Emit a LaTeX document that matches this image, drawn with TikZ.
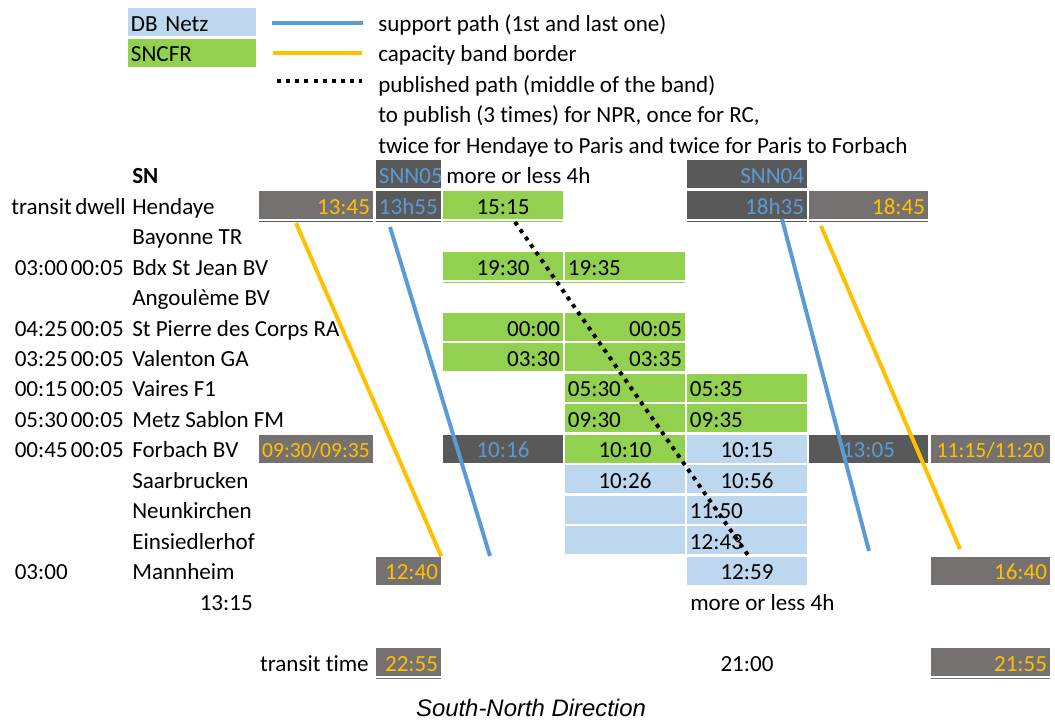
\documentclass[tikz,border=0pt]{standalone}
\usepackage{fontspec}
\setmainfont[Ligatures=NoCommon]{Carlito}
\newfontfamily\captionfont{Liberation Sans}
\newcommand{\cellfont}{\fontsize{16.4pt}{19pt}\selectfont}

\definecolor{dbblue}{HTML}{BDD7EE}
\definecolor{sncfgreen}{HTML}{92D050}
\definecolor{darkcell}{HTML}{595959}
\definecolor{greycell}{HTML}{767171}
\definecolor{bandorange}{HTML}{FFC000}
\definecolor{pathblue}{HTML}{5B9BD5}

\tikzset{
	cell/.style={inner xsep=0.075cm, inner ysep=0pt, minimum height=0.7cm, text height=13pt, text depth=0pt},
	plain/.style={inner sep=0pt, text height=13pt, text depth=0pt},
	dcell/.style={cell, text width=2.7cm},
	ecell/.style={cell, text width=1.475cm},
	wcell/.style={cell, text width=2.85cm},
	icell/.style={cell, text width=2.825cm},
	lgcell/.style={cell, text width=3.05cm},
	fullcell/.style={cell, inner xsep=0pt, minimum width=#1, font=\fontsize{15.4pt}{19pt}\selectfont},
	sncf/.style={fill=sncfgreen},
	db/.style={fill=dbblue},
	dark/.style={fill=darkcell, text=pathblue},
	grey/.style={fill=greycell, text=bandorange},
	support/.style={draw=pathblue, line width=2.8pt},
	bandline/.style={draw=bandorange, line width=2.8pt},
	published/.style={draw=black, line width=2.8pt, dash pattern=on 2.8pt off 3.7pt},
	cellrule/.style={line width=0.7pt}
}

\begin{document}
\begin{tikzpicture}[x=0.025cm, y=-0.025cm, font=\cellfont]
	\useasboundingbox (0,0) rectangle (1055,720);
	% legend
	\node[lgcell, db, align=left] (dbnetz) at (192,22.2) {DB Netz};
	\node[lgcell, sncf, align=left] (sncfr) at (192,52.7) {SNCFR};
	\coordinate (supA) at (272,22.7);
	\coordinate (supB) at (363,22.7);
	\coordinate (bandA) at (273,53.2);
	\coordinate (bandB) at (362,53.2);
	\coordinate (pubA) at (277,81);
	\coordinate (pubB) at (362,81);
	\draw[support] (supA) -- (supB);
	\draw[bandline] (bandA) -- (bandB);
	\draw[published] (pubA) -- (pubB);
	\node[plain, anchor=west] (supporttxt) at (378,22.2) {support path (1st and last one)};
	\node[plain, anchor=west] (bandtxt) at (378,52.7) {capacity band border};
	\node[plain, anchor=west] (pubtxt) at (378,83.1) {published path (middle of the band)};
	\node[plain, anchor=west] (npr) at (378,113.6) {to publish (3 times) for NPR, once for RC,};
	\node[plain, anchor=west] (twice) at (378,144.1) {twice for Hendaye to Paris and twice for Paris to Forbach};
	% header
	\node[plain, anchor=west] (sn) at (132,174.5) {\textbf{SN}};
	\node[ecell, dark, align=left] (snn05) at (408.5,174.5) {SNN05};
	\node[plain, anchor=west] (approxA) at (446,174.5) {more or less 4h};
	\node[wcell, dark, align=right] (snn04) at (747,174.5) {SNN04};
	% Hendaye
	\node[plain, anchor=west] (transit) at (11,205) {transit};
	\node[plain, anchor=west] (dwell) at (75,205) {dwell};
	\node[plain, anchor=west] (hendaye) at (132,205) {Hendaye};
	\node[dcell, grey, align=right] (h1345) at (316,205) {13:45};
	\node[ecell, dark, align=left] (h1355) at (408.5,205) {13h55};
	\node[wcell, sncf, align=center] (h1515) at (503,205) {15:15};
	\node[wcell, dark, align=right] (h1835) at (747,205) {18h35};
	\node[icell, grey, align=right] (h1845) at (868.5,205) {18:45};
	\draw[cellrule, draw=darkcell] (h1345.south west) ++(0,2.5) -- ++(114,0);
	\draw[cellrule, draw=darkcell] (h1355.south west) ++(0,2.5) -- ++(65,0);
	\draw[cellrule, draw=sncfgreen] (h1515.south west) ++(0,2.5) -- ++(120,0);
	\draw[cellrule, draw=darkcell] (h1835.south west) ++(0,2.5) -- ++(120,0);
	\draw[cellrule, draw=darkcell] (h1845.south west) ++(0,2.5) -- ++(119,0);
	% Bayonne
	\node[plain, anchor=west] (bayonne) at (132,235.5) {Bayonne TR};
	% Bordeaux
	\node[plain, anchor=east] (bdxrun) at (68,265.9) {03:00};
	\node[plain, anchor=east] (bdxdwell) at (124,265.9) {00:05};
	\node[plain, anchor=west] (bdx) at (132,265.9) {Bdx St Jean BV};
	\node[wcell, sncf, align=center] (b1930) at (503,265.9) {19:30};
	\node[wcell, sncf, align=left] (b1935) at (625,265.9) {19:35};
	\draw[cellrule, draw=sncfgreen] (b1930.south west) ++(0,2.5) -- ++(242,0);
	% Angouleme
	\node[plain, anchor=west] (angouleme) at (132,296.4) {Angoulème BV};
	% St Pierre
	\node[plain, anchor=east] (sprun) at (68,326.9) {04:25};
	\node[plain, anchor=east] (spdwell) at (124,326.9) {00:05};
	\node[plain, anchor=west] (stpierre) at (132,326.9) {St Pierre des Corps RA};
	\node[wcell, sncf, align=right] (s0000) at (503,326.9) {00:00};
	\node[wcell, sncf, align=right] (s0005) at (625,326.9) {00:05};
	% Valenton
	\node[plain, anchor=east] (vlrun) at (68,357.4) {03:25};
	\node[plain, anchor=east] (vldwell) at (124,357.4) {00:05};
	\node[plain, anchor=west] (valenton) at (132,357.4) {Valenton GA};
	\node[wcell, sncf, align=right] (v0330) at (503,357.4) {03:30};
	\node[wcell, sncf, align=right] (v0335) at (625,357.4) {03:35};
	% Vaires
	\node[plain, anchor=east] (vfrun) at (68,387.8) {00:15};
	\node[plain, anchor=east] (vfdwell) at (124,387.8) {00:05};
	\node[plain, anchor=west] (vaires) at (132,387.8) {Vaires F1};
	\node[wcell, sncf, align=left] (f0530) at (625,387.8) {05:30};
	\node[wcell, sncf, align=left] (f0535) at (747,387.8) {05:35};
	% Metz
	\node[plain, anchor=east] (mzrun) at (68,418.3) {05:30};
	\node[plain, anchor=east] (mzdwell) at (124,418.3) {00:05};
	\node[plain, anchor=west] (metz) at (132,418.3) {Metz Sablon FM};
	\node[wcell, sncf, align=left] (m0930) at (625,418.3) {09:30};
	\node[wcell, sncf, align=left] (m0935) at (747,418.3) {09:35};
	% Forbach
	\node[plain, anchor=east] (fbrun) at (68,448.8) {00:45};
	\node[plain, anchor=east] (fbdwell) at (124,448.8) {00:05};
	\node[plain, anchor=west] (forbach) at (132,448.8) {Forbach BV};
	\node[fullcell=2.85cm, grey] (fb0930) at (316,448.8) {09:30/09:35};
	\node[wcell, dark, align=center] (fb1016) at (503,448.8) {10:16};
	\node[wcell, sncf, align=center] (fb1010) at (625,448.8) {10:10};
	\node[wcell, db, align=center] (fb1015) at (747,448.8) {10:15};
	\node[icell, dark, align=center] (fb1305) at (868.5,448.8) {13:05};
	\node[fullcell=2.975cm, grey] (fb1115) at (990.5,448.8) {11:15/11:20};
	% Saarbrucken
	\node[plain, anchor=west] (saarbrucken) at (132,479.2) {Saarbrucken};
	\node[wcell, db, align=center] (sb1026) at (625,479.2) {10:26};
	\node[wcell, db, align=center] (sb1056) at (747,479.2) {10:56};
	% Neunkirchen
	\node[plain, anchor=west] (neunkirchen) at (132,509.7) {Neunkirchen};
	\node[wcell, db] (nkempty) at (625,509.7) {};
	\node[wcell, db, align=left] (nk1150) at (747,509.7) {11:50};
	% Einsiedlerhof
	\node[plain, anchor=west] (einsiedlerhof) at (132,540.2) {Einsiedlerhof};
	\node[wcell, db] (esempty) at (625,540.2) {};
	\node[wcell, db, align=left] (es1243) at (747,540.2) {12:43};
	% Mannheim
	\node[plain, anchor=east] (mhrun) at (68,570.6) {03:00};
	\node[plain, anchor=west] (mannheim) at (132,570.6) {Mannheim};
	\node[ecell, grey, align=right] (mh1240) at (408.5,570.6) {12:40};
	\node[wcell, db, align=center] (mh1259) at (747,570.6) {12:59};
	\node[icell, grey, align=right] (mh1640) at (990.5,570.6) {16:40};
	% totals
	\node[plain, anchor=east] (total) at (253,601.1) {13:15};
	\node[plain, anchor=west] (approxB) at (690,601.1) {more or less 4h};
	\node[plain, anchor=east] (transittime) at (369,662.1) {transit time};
	\node[ecell, grey, align=right] (tt2255) at (408.5,662.1) {22:55};
	\node[wcell, align=center] (tt2100) at (747,662.1) {21:00};
	\node[icell, grey, align=right] (tt2155) at (990.5,662.1) {21:55};
	\draw[cellrule, draw=greycell] (tt2255.south west) ++(0,2.5) -- ++(65,0);
	\draw[cellrule, draw=greycell] (tt2155.south west) ++(0,2.5) -- ++(119,0);
	% band and paths
	\coordinate (bandW) at (296,223);
	\coordinate (supW1) at (390,227);
	\coordinate (supW2) at (490,556);
	\coordinate (supE1) at (782,219);
	\coordinate (supE2) at (869,551);
	\coordinate (bandE1) at (821,226);
	\coordinate (bandE2) at (960,549);
	\coordinate (pubW) at (515,222);
	\coordinate (pubE) at (750,558);
	\draw[bandline] (bandW) -- (mh1240.north east);
	\draw[support] (supW1) -- (supW2);
	\draw[support] (supE1) -- (supE2);
	\draw[bandline] (bandE1) -- (bandE2);
	\draw[published] (pubW) -- (pubE);
	% caption
	\node[font=\captionfont\itshape\fontsize{17pt}{20pt}\selectfont] (caption) at (531,708) {South-North Direction};
\end{tikzpicture}
\end{document}
